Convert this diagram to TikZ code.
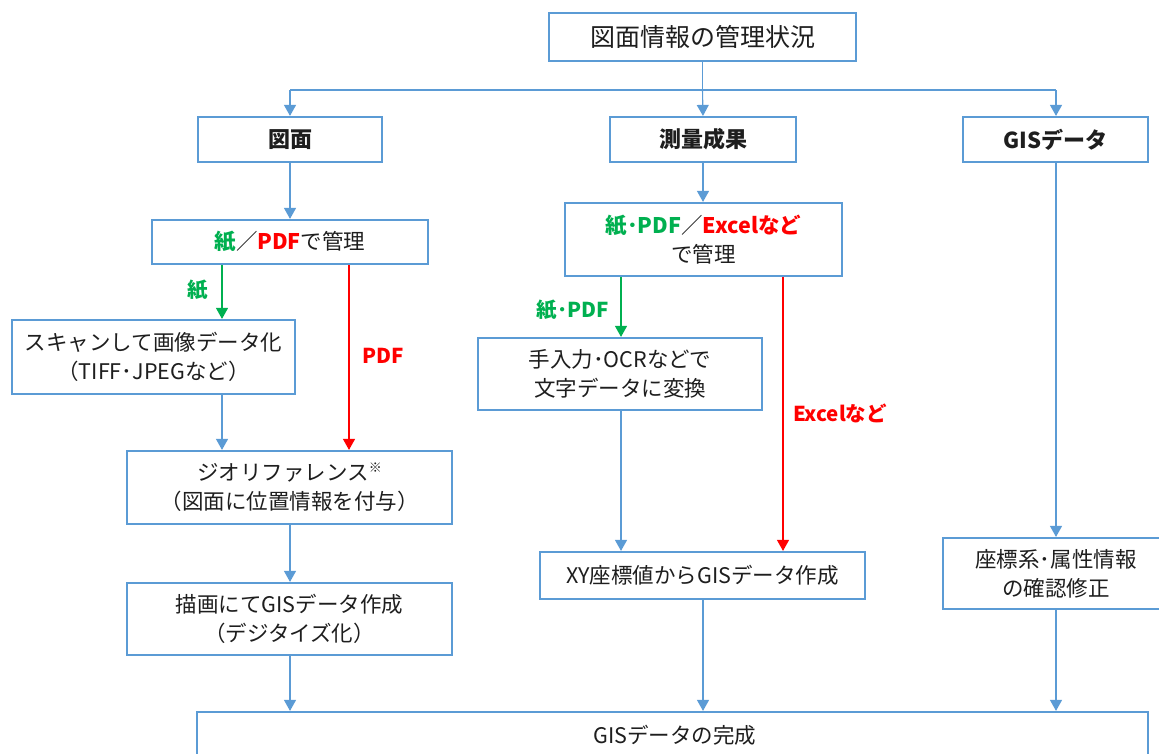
\documentclass[tikz,border=0pt]{standalone}
\usepackage{fontspec}
\setmainfont{Noto Sans CJK JP}
\usetikzlibrary{arrows.meta,calc}
\definecolor{bbox}{HTML}{5B9BD5}
\definecolor{gtext}{HTML}{00B050}
\definecolor{rtext}{HTML}{FF0000}
\definecolor{ink}{HTML}{1E1E1E}
\tikzset{
  box/.style={draw=bbox, line width=2.2pt, fill=white, text=ink, align=center, inner sep=0pt,
    font=\fontsize{21.5}{29}\selectfont},
  hbox/.style={box, font=\fontsize{22}{28}\selectfont\bfseries},
  conn/.style={draw=bbox, line width=1.1pt, -{Triangle[width=12pt,length=11pt]}},
  gconn/.style={conn, draw=gtext, -{Triangle[width=12pt,length=11pt,fill=gtext]}},
  rconn/.style={conn, draw=rtext, -{Triangle[width=12pt,length=11pt,fill=rtext]}},
  plain/.style={draw=bbox, line width=1.1pt},
  glab/.style={text=gtext, font=\fontsize{20.5}{22}\selectfont\bfseries},
  rlab/.style={text=rtext, font=\fontsize{20.5}{22}\selectfont\bfseries},
}
\begin{document}
\begin{tikzpicture}[x=1pt,y=-1pt]
\useasboundingbox (0,0) rectangle (1159,753);
\clip (0,0) rectangle (1159,753);
% nodes
\node[box, minimum width=307pt, minimum height=48pt, font=\fontsize{25}{28}\selectfont] (top) at (702.5,37) {図面情報の管理状況};
\node[hbox, minimum width=184pt, minimum height=45pt] (zumen) at (290,139.5) {図面};
\node[hbox, minimum width=186pt, minimum height=45pt] (soku) at (703,139.5) {測量成果};
\node[hbox, minimum width=185pt, minimum height=45pt] (gis) at (1055.5,139.5) {GISデータ};
\node[box, minimum width=276pt, minimum height=44pt] (kami) at (290,242) {{\bfseries\color{gtext}紙}／{\bfseries\color{rtext}PDF}で管理};
\node[box, minimum width=283pt, minimum height=74pt] (scan) at (153.5,357) {スキャンして画像データ化\\（TIFF･JPEGなど）};
\node[box, minimum width=325pt, minimum height=73pt] (geo) at (289.5,487.5) {ジオリファレンス\raisebox{0.7ex}{\fontsize{13}{13}\selectfont ※}\\（図面に位置情報を付与）};
\node[box, minimum width=325pt, minimum height=72pt] (digi) at (289.5,619) {描画にてGISデータ作成\\（デジタイズ化）};
\node[box, minimum width=277pt, minimum height=73pt] (kpdf) at (703.5,239.5) {{\bfseries\color{gtext}紙･PDF}／{\bfseries\color{rtext}Excelなど}\\で管理};
\node[box, minimum width=284pt, minimum height=72pt] (hand) at (620,374) {手入力･OCRなどで\\文字データに変換};
\node[box, minimum width=325pt, minimum height=47pt] (xy) at (702.5,575.5) {XY座標値からGISデータ作成};
\node[box, minimum width=226pt, minimum height=71pt] (zahyo) at (1056,573.5) {座標系･属性情報\\の確認修正};
\node[box, minimum width=951pt, minimum height=66pt, text depth=0pt] (kansei) at (672.5,745) {};
\node[text=ink, font=\fontsize{21.5}{24}\selectfont] (kanseitxt) at (675,735) {GISデータの完成};
% labels
\node[glab] (lkami) at (198,290) {紙};
\node[rlab] (lpdf) at (383,356) {PDF};
\node[glab] (lkpdf) at (573,310) {紙･PDF};
\node[rlab] (lexcel) at (840,413) {Excelなど};
% helper coordinates
\coordinate (split) at (702.5,90);
\coordinate (xa) at (290,90);
\coordinate (xb) at (1056,90);
\coordinate (x222) at (222,0);
\coordinate (x349) at (349,0);
\coordinate (x290) at (290,0);
\coordinate (x621) at (621,0);
\coordinate (x783) at (783,0);
\coordinate (x703) at (703,0);
\coordinate (x1056) at (1056,0);
% connectors
\draw[plain] (top.south) -- (split);
\draw[plain] (xa) -- (xb);
\draw[conn] (xa) -- (zumen.north);
\draw[conn] (split) -- (x703 |- soku.north);
\draw[conn] (xb) -- (x1056 |- gis.north);
\draw[conn] (zumen.south) -- (kami.north);
\draw[gconn] (x222 |- kami.south) -- (x222 |- scan.north);
\draw[rconn] (x349 |- kami.south) -- (x349 |- geo.north);
\draw[conn] (x222 |- scan.south) -- (x222 |- geo.north);
\draw[conn] (x290 |- geo.south) -- (x290 |- digi.north);
\draw[conn] (x290 |- digi.south) -- (x290 |- kansei.north);
\draw[conn] (soku.south) -- (x703 |- kpdf.north);
\draw[gconn] (x621 |- kpdf.south) -- (x621 |- hand.north);
\draw[conn] (x621 |- hand.south) -- (x621 |- xy.north);
\draw[rconn] (x783 |- kpdf.south) -- (x783 |- xy.north);
\draw[conn] (x703 |- xy.south) -- (x703 |- kansei.north);
\draw[conn] (x1056 |- gis.south) -- (x1056 |- zahyo.north);
\draw[conn] (x1056 |- zahyo.south) -- (x1056 |- kansei.north);
\end{tikzpicture}
\end{document}
